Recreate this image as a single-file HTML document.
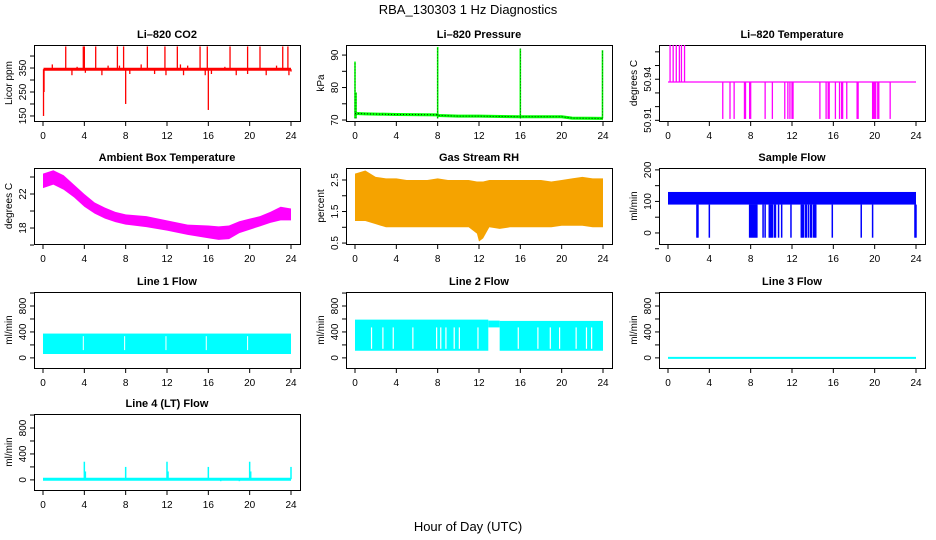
<!DOCTYPE html>
<html><head><meta charset="utf-8"><style>
html,body{margin:0;padding:0;background:#fff;}
svg{display:block;font-family:"Liberation Sans",Arial,sans-serif;}
</style></head><body>
<svg id="chart" width="936" height="540" viewBox="0 0 936 540">
<text x="468" y="14" text-anchor="middle" font-size="13">RBA_130303  1 Hz Diagnostics</text>
<text x="468" y="531" text-anchor="middle" font-size="13">Hour of Day (UTC)</text>
</svg>
<script>
// ---- data ----
const hourTicks = [0,4,8,12,16,20,24];
const co2Base = 345;
const co2SpikeHours = [0.05,0.1,2.2,3.9,4.0,5.1,7.2,7.8,8.0,10.1,11.8,13.0,15.2,15.9,16.0,18.1,19.8,21.0,23.2,23.7,0.9,2.8,3.3,4.1,5.7,6.3,7.4,8.4,9.5,10.8,11.9,13.3,13.6,14.0,15.7,16.3,17.6,18.7,19.8,21.6,22.6,23.8,24.0];
const co2SpikeValues = [150,250,440,440,440,440,440,440,200,440,440,440,440,440,175,440,440,440,440,440,365,320,355,330,320,360,360,325,365,325,320,365,320,360,320,325,355,320,325,320,360,320,335];
const presHours = [0,0.05,1,4,8,8.05,10,12,16,20,21,24];
const presValues = [72,72,71.9,71.7,71.6,71.4,71.2,71.2,71.0,71.0,70.6,70.5];
const presSpikeHours = [0,0.1,8,16,23.95];
const presSpikeValues = [88,78.5,92.5,92,91.5];
const tempBase = 50.938;
const tempUpHours = [0.2,0.5,0.8,1.1,1.3,1.6];
const tempUpValue = 50.965;
const tempDownHours = [5.3,6.0,6.4,7.4,7.5,7.9,8.0,9.4,10.1,11.3,11.6,11.8,12.0,12.1,14.7,15.3,15.5,15.6,16.2,16.6,16.8,16.9,17.3,18.3,18.4,19.8,19.9,20.0,20.1,20.3,20.4,21.5];
const tempDownValue = 50.911;
const ambHours = [0,1,2,3,4,5,6,7,8,10,12,14,16,17,18,19,20,21,22,23,24];
const ambMax = [24.4,24.8,24.2,23.1,22.0,21.0,20.4,19.9,19.6,19.4,18.9,18.4,18.3,18.2,18.3,18.8,19.1,19.4,19.9,20.5,20.3];
const ambMin = [22.7,23.1,22.5,21.6,20.5,19.7,19.1,18.7,18.4,18.1,17.7,17.2,16.8,16.6,16.7,17.4,17.8,18.2,18.6,18.9,18.9];
const rhHours = [0,1,2,3,4,5,6,7,8,9,10,11,11.8,12,12.4,13,14,15,16,17,18,19,20,21,22,23,24];
const rhMax = [2.7,2.8,2.6,2.55,2.55,2.5,2.5,2.5,2.55,2.5,2.5,2.5,2.45,2.45,2.45,2.5,2.5,2.5,2.5,2.5,2.5,2.45,2.5,2.55,2.6,2.55,2.55];
const rhMin = [1.2,1.2,1.1,1.0,1.0,1.0,1.0,1.0,1.0,1.0,1.0,1.0,0.8,0.55,0.65,1.0,0.95,1.0,1.0,1.0,1.0,1.0,1.05,1.05,1.05,1.0,1.0];
const sampleBinStart = [0];
const sampleBinEnd = [24];
const sampleMin = [90];
const sampleMax = [130];
const sampleDropHours = [2.8,2.9,4.0,7.9,8.0,8.1,8.2,8.3,8.4,8.5,8.6,9.2,9.4,9.8,9.9,10.0,10.1,10.3,10.4,10.7,11.0,11.9,12.9,13.0,13.1,13.3,13.4,13.6,13.8,13.9,14.1,14.2,14.3,15.9,18.7,19.8,23.9,24.0];
const sampleDropValue = -15;
const line1BinStart = [0];
const line1BinEnd = [24];
const line1Min = [60];
const line1Max = [375];
const line1GapHours = [3.9,7.9,11.9,15.8,19.8];
const line2BinStart = [0,12.9,14.0];
const line2BinEnd = [12.9,14.0,24];
const line2Min = [110,470,110];
const line2Max = [590,575,570];
const line2GapHours = [1.6,2.7,3.7,5.6,7.9,8.3,8.8,9.6,10.1,11.9,15.8,17.7,18.9,19.8,21.4,22.4,22.9];
const line3Hours = [0,24];
const line3Values = [0,0];
const line4Base = 10;
const line4SpikeHours = [4.0,4.1,8.0,12.0,12.1,16.0,20.0,20.1,24.0,17.2,19.0];
const line4SpikeValues = [280,130,200,280,130,200,280,130,200,-20,-20];

const co2Ticks=[150,200,250,300,350,400], co2Labels=['150','','250','','350',''];
const presTicks=[70,75,80,85,90], presLabels=['70','','80','','90'];
const tempTicks=[50.91,50.92,50.93,50.94,50.95,50.96], tempLabels=['50.91','','','50.94','',''];
const ambTicks=[16,18,20,22,24], ambLabels=['','18','','22',''];
const rhTicks=[0.5,1,1.5,2,2.5], rhLabels=['0.5','','1.5','','2.5'];
const sampTicks=[-50,0,50,100,150,200], sampLabels=['','0','','100','','200'];
const flowTicks=[0,200,400,600,800,1000], flowLabels=['0','','400','','800',''];

// ---- layout ----
const svg=document.getElementById('chart');
const NS='http://www.w3.org/2000/svg';
const colLeft=[34,346,659], rowTop=[45,168,292,414], BW=266, BH=76;
function mk(tag,parent){const e=document.createElementNS(NS,tag);parent.appendChild(e);return e;}
function panel(name,title,ylab,col,row,ylo,yhi,ticks,labels){
  const L=colLeft[col],T=rowTop[row],B=T+BH;
  const g=mk('g',svg);
  
  
  const p={g,L,T,B,sx:h=>L+9+h*248/24,sy:v=>B-(v-ylo)/(yhi-ylo)*BH};
  const box=mk('rect',g);
  
  
  box.setAttribute('x',L+.5);box.setAttribute('y',T+.5);box.setAttribute('width',BW);box.setAttribute('height',BH);
  box.setAttribute('fill','none');box.setAttribute('stroke','#000');
  const t=mk('text',g);
  
  
  t.setAttribute('x',L+BW/2);t.setAttribute('y',T-7);t.setAttribute('text-anchor','middle');
  t.setAttribute('font-size','11');t.setAttribute('font-weight','bold');t.textContent=title;
  const yl=mk('text',g);
  
  
  yl.setAttribute('transform','translate('+(L-22)+','+(T+BH/2)+') rotate(-90)');
  yl.setAttribute('text-anchor','middle');yl.setAttribute('font-size','10');yl.textContent=ylab;
  hourTicks.forEach(h=>{
    const x=p.sx(h);
    const tk=mk('line',g);
    
    
    tk.setAttribute('x1',x);tk.setAttribute('x2',x);tk.setAttribute('y1',B);tk.setAttribute('y2',B+5);tk.setAttribute('stroke','#000');
    const tl=mk('text',g);
    
    
    tl.setAttribute('x',x);tl.setAttribute('y',B+18);tl.setAttribute('text-anchor','middle');tl.setAttribute('font-size','10');tl.textContent=h;
  });
  ticks.forEach((v,i)=>{
    const y=p.sy(v);
    const tk=mk('line',g);
    
    
    tk.setAttribute('x1',L-4);tk.setAttribute('x2',L);tk.setAttribute('y1',y);tk.setAttribute('y2',y);tk.setAttribute('stroke','#000');
    if(labels[i]){
      const tl=mk('text',g);
      
      
      tl.setAttribute('transform','translate('+(L-8)+','+y+') rotate(-90)');
      tl.setAttribute('text-anchor','middle');tl.setAttribute('font-size','10');tl.textContent=labels[i];
    }
  });
  return p;
}
function seg(p,name,h1,v1,h2,v2,color,w){
  const l=mk('line',p.g);
  
  
  l.setAttribute('x1',p.sx(h1));l.setAttribute('x2',p.sx(h2));l.setAttribute('y1',p.sy(v1));l.setAttribute('y2',p.sy(v2));
  l.setAttribute('stroke',color);l.setAttribute('stroke-width',w);
  return l;
}
function bins(p,name,s,e,mn,mx,color){
  s.forEach((h,i)=>{
    const r=mk('rect',p.g);
    
    
    const y1=p.sy(mx[i]),y2=p.sy(mn[i]);
    r.setAttribute('x',p.sx(h));r.setAttribute('width',p.sx(e[i])-p.sx(h));r.setAttribute('y',y1);r.setAttribute('height',y2-y1);r.setAttribute('fill',color);
  });
}
function band(p,name,hs,mn,mx,fill){
  const pts=hs.map((h,i)=>p.sx(h)+','+p.sy(mx[i])).concat(hs.slice().reverse().map((h,j)=>{const i=hs.length-1-j;return p.sx(h)+','+p.sy(mn[i]);}));
  const pg=mk('polygon',p.g);
  
  
  pg.setAttribute('points',pts.join(' '));pg.setAttribute('fill',fill);
}

// CO2
let p=panel('co2','Li\u2013820 CO2','Licor ppm',0,0,129,446,co2Ticks,co2Labels);
seg(p,'co2-baseline',0.05,co2Base,24,co2Base,'#f00',3);
co2SpikeHours.forEach((h,i)=>seg(p,'co2-spike',h,co2Base,h,co2SpikeValues[i],'#f00',1.3));
// Pressure
p=panel('pressure','Li\u2013820 Pressure','kPa',1,0,69.7,93.1,presTicks,presLabels);
const pl=mk('polyline',p.g);


pl.setAttribute('points',presHours.map((h,i)=>p.sx(h)+','+p.sy(presValues[i])).join(' '));
pl.setAttribute('fill','none');pl.setAttribute('stroke','#0f0');pl.setAttribute('stroke-width','3');
presSpikeHours.forEach((h,i)=>{seg(p,'pressure-spike',h,presValues[0]-1.5,h,presSpikeValues[i],'#0f0',1.6);seg(p,'pressure-spike-dots',h,presValues[0]-1.5,h,presSpikeValues[i],'#000',0.6).setAttribute('stroke-dasharray','1,2');});
const pd=mk('polyline',p.g);


pd.setAttribute('points',presHours.map((h,i)=>p.sx(h)+','+p.sy(presValues[i])).join(' '));
pd.setAttribute('fill','none');pd.setAttribute('stroke','#000');pd.setAttribute('stroke-width','0.8');pd.setAttribute('stroke-dasharray','1,2');
// Temperature
p=panel('li820-temp','Li\u2013820 Temperature','degrees C',2,0,50.9095,50.965,tempTicks,tempLabels);
seg(p,'temp-baseline',0,tempBase,24,tempBase,'#f0f',1.3);
tempUpHours.forEach(h=>seg(p,'temp-up-spike',h,tempBase,h,tempUpValue,'#f0f',1.3));
tempDownHours.forEach(h=>seg(p,'temp-down-spike',h,tempBase,h,tempDownValue,'#f0f',1.3));
// Ambient
p=panel('ambient','Ambient Box Temperature','degrees C',0,1,16.12,25.06,ambTicks,ambLabels);
band(p,'ambient-band',ambHours,ambMin,ambMax,'#f0f');
// RH
p=panel('rh','Gas Stream RH','percent',1,1,0.47,2.88,rhTicks,rhLabels);
band(p,'rh-band',rhHours,rhMin,rhMax,'#f5a300');
// Sample flow
p=panel('sample-flow','Sample Flow','ml/min',2,1,-35,206,sampTicks,sampLabels);
bins(p,'sample-flow-band',sampleBinStart,sampleBinEnd,sampleMin,sampleMax,'#00f');
sampleDropHours.forEach(h=>seg(p,'sample-flow-drop',h,sampleMin[0],h,sampleDropValue,'#00f',1.5));
// Line 1
p=panel('line1-flow','Line 1 Flow','ml/min',0,2,-156,1016,flowTicks,flowLabels);
bins(p,'line1-band',line1BinStart,line1BinEnd,line1Min,line1Max,'#0ff');
line1GapHours.forEach(h=>seg(p,'line1-gap',h,line1Min[0]+60,h,line1Max[0]-40,'#fff',1));
// Line 2
p=panel('line2-flow','Line 2 Flow','ml/min',1,2,-156,1016,flowTicks,flowLabels);
bins(p,'line2-band',line2BinStart,line2BinEnd,line2Min,line2Max,'#0ff');
line2GapHours.forEach(h=>seg(p,'line2-gap',h,line2Min[0]+30,h,470,'#fff',1.2));
// Line 3
p=panel('line3-flow','Line 3 Flow','ml/min',2,2,-156,1016,flowTicks,flowLabels);
seg(p,'line3-line',line3Hours[0],line3Values[0],line3Hours[1],line3Values[1],'#0ff',2);
// Line 4
p=panel('line4-flow','Line 4 (LT) Flow','ml/min',0,3,-156,1016,flowTicks,flowLabels);
seg(p,'line4-baseline',0,line4Base,24,line4Base,'#0ff',3);
line4SpikeHours.forEach((h,i)=>seg(p,'line4-spike',h,line4Base,h,line4SpikeValues[i],'#0ff',1.5));
</script>
</body></html>
